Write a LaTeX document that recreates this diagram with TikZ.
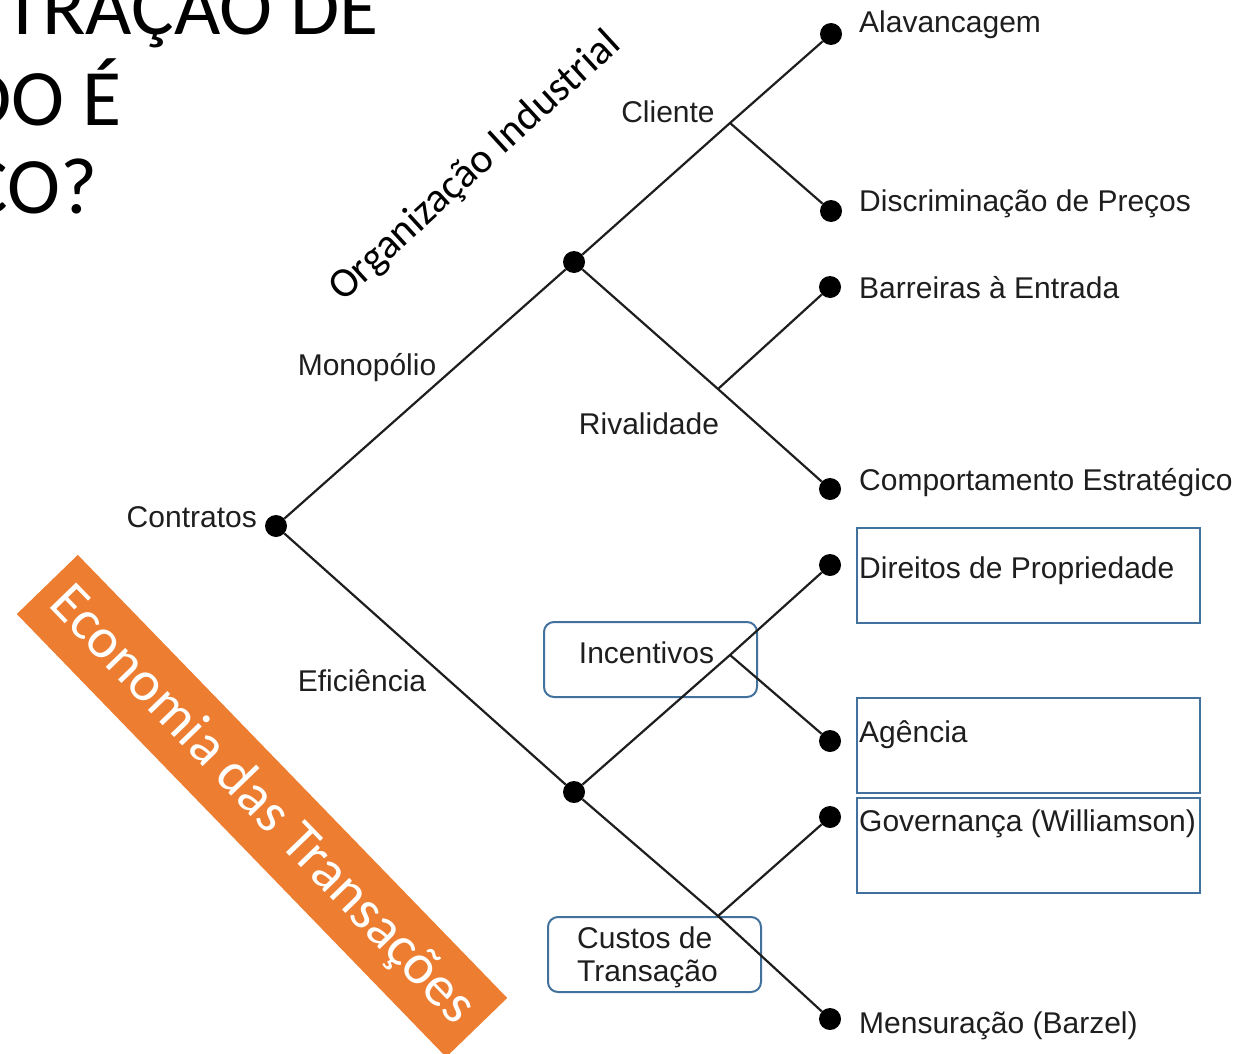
\documentclass[tikz,border=0pt]{standalone}
\usepackage{fontspec}
\setmainfont{Liberation Sans}
\newfontfamily\calibri{Carlito}
\usepackage{tikz}
\definecolor{laranja}{HTML}{ED7D31}
\definecolor{azul}{HTML}{41719C}
\definecolor{tinta}{HTML}{1E1E1E}

\begin{document}
\begin{tikzpicture}[x=1pt, y=-1pt,
	dot/.style={circle, fill=black, inner sep=0pt, minimum size=22pt},
	ramo/.style={line width=2.2pt, tinta},
	rotulo/.style={inner sep=0pt, anchor=base west, text=tinta, font=\fontsize{30}{33}\selectfont},
	meio/.style={inner sep=0pt, text=tinta, font=\fontsize{30}{33}\selectfont},
	caixa/.style={draw=azul, line width=2pt, inner sep=0pt, anchor=north west, minimum width=343pt, minimum height=95pt},
	etiqueta/.style={draw=azul, line width=2pt, rounded corners=10pt, inner sep=0pt, minimum width=213pt, minimum height=75pt, align=left, text=tinta, font=\fontsize{30}{33}\selectfont},
	titulo/.style={inner sep=0pt, anchor=base west, font=\calibri\fontsize{80}{90}\selectfont},
	faixa/.style={fill=laranja, inner sep=0pt, rotate=-45.9, minimum width=617pt, minimum height=85pt, text=white, font=\calibri\fontsize{57}{60}\selectfont}]
	\useasboundingbox (0,0) rectangle (1236,1054);
	\clip (0,0) rectangle (1236,1054);

	% titulo cortado
	\node[titulo] (tit1) at (3,35) {TRAÇÃO DE};
	\node[titulo] (tit2) at (-38,125) {DO É};
	\node[titulo] (tit3) at (-35,213) {CO?};

	\node[faixa] (econ) at (262,806) {Economia das Transações};
	\node[inner sep=0pt, anchor=base west, rotate=42.5, font=\calibri\fontsize{42}{50}\selectfont] (orgind) at (343,303) {Organização Industrial};

	% caixas
	\node[caixa] (dirbox) at (856,527) {};
	\node[caixa] (agebox) at (856,697) {};
	\node[caixa] (govbox) at (856,797) {};
	\node[etiqueta, text depth=14pt] (incent) at (650.5,659.5) {Incentivos\rule{8pt}{0pt}};
	\node[etiqueta, text depth=1pt] (custos) at (654.5,954.5) {Custos de\\Transação\rule{14pt}{0pt}};

	% arvore
	\node[dot] (contr) at (276,526) {};
	\node[dot] (mono) at (574,262) {};
	\node[dot] (efic) at (574,792) {};
	\node[dot] (alav) at (831,34) {};
	\node[dot] (discr) at (831,211) {};
	\node[dot] (barr) at (830,287) {};
	\node[dot] (comp) at (830,489) {};
	\node[dot] (dir) at (830,565) {};
	\node[dot] (agen) at (830,741) {};
	\node[dot] (gov) at (830,817) {};
	\node[dot] (mens) at (830,1019) {};
	\coordinate (cli) at (730,123);
	\coordinate (riv) at (718,389);
	\coordinate (incj) at (730,655);
	\coordinate (cusj) at (718,916);

	\draw[ramo] (contr) -- (mono) -- (cli) -- (alav);
	\draw[ramo] (cli) -- (discr);
	\draw[ramo] (mono) -- (riv) -- (comp);
	\draw[ramo] (riv) -- (barr);
	\draw[ramo] (contr) -- (efic) -- (incj) -- (dir);
	\draw[ramo] (incj) -- (agen);
	\draw[ramo] (efic) -- (cusj) -- (mens);
	\draw[ramo] (cusj) -- (gov);

	% rotulos
	\node[meio, anchor=base east] (lcontr) at (257,527) {Contratos};
	\node[meio, anchor=base] (lmono) at (367,375) {Monopólio};
	\node[meio, anchor=base] (lefic) at (362,691) {Eficiência};
	\node[meio, anchor=base] (lcli) at (668,123) {Cliente};
	\node[meio, anchor=base] (lriv) at (649,434) {Rivalidade};

	\node[rotulo] (lalav) at (859,33) {Alavancagem};
	\node[rotulo] (ldiscr) at (859,211) {Discriminação de Preços};
	\node[rotulo] (lbarr) at (859,298) {Barreiras à Entrada};
	\node[rotulo] (lcomp) at (859,490) {Comportamento Estratégico};
	\node[rotulo] (ldir) at (859,578) {Direitos de Propriedade};
	\node[rotulo] (lagen) at (859,742) {Agência};
	\node[rotulo] (lgov) at (859,831) {Governança (Williamson)};
	\node[rotulo] (lmens) at (859,1033) {Mensuração (Barzel)};
\end{tikzpicture}
\end{document}
